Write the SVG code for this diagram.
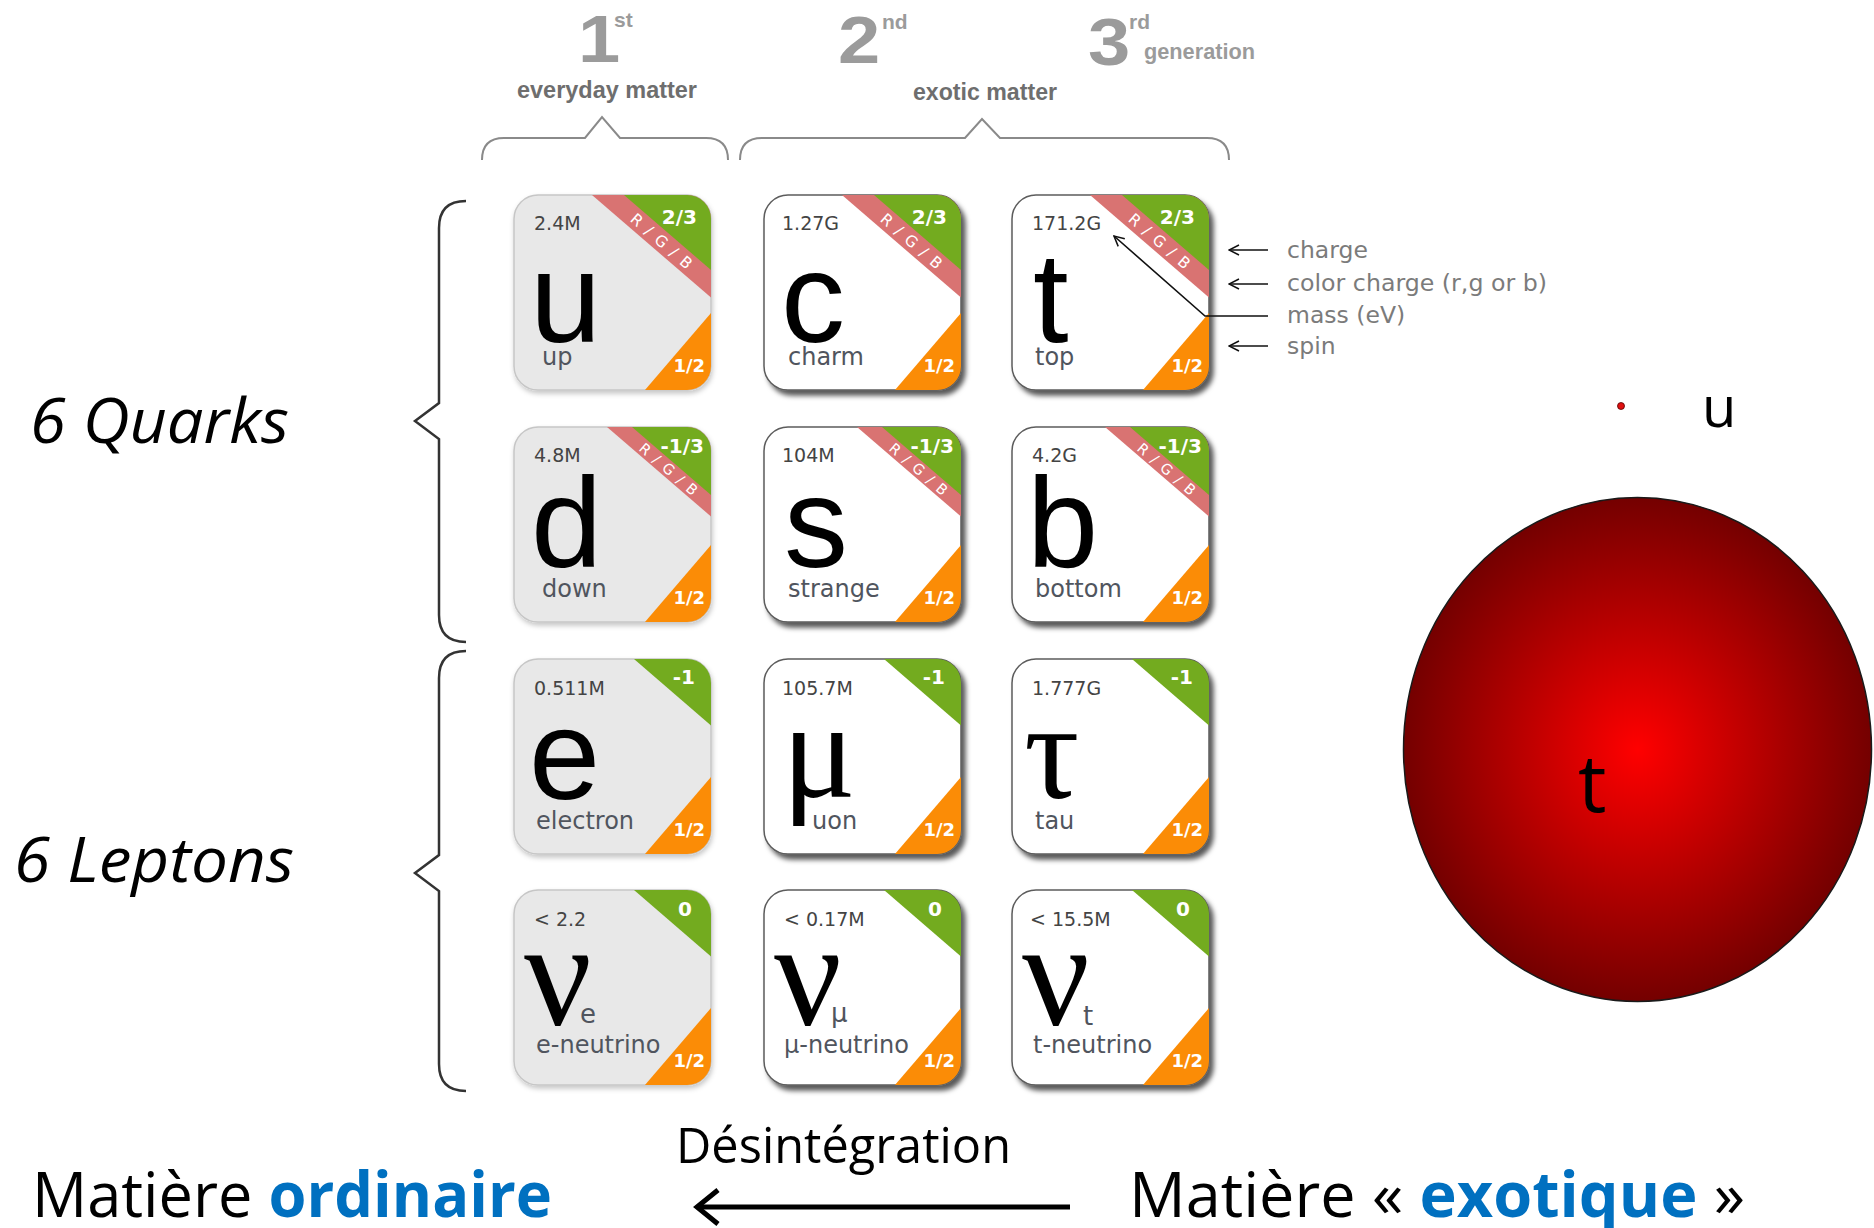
<svg xmlns="http://www.w3.org/2000/svg" width="1874" height="1228" viewBox="0 0 1874 1228">
<defs>
<style>
.bg1 { fill:#e8e8e8; stroke:#c6c6c6; stroke-width:1.5; filter:url(#shLight); }
.bg2 { fill:#ffffff; stroke:#5c5c5c; stroke-width:1.5; filter:url(#shDark); }
.green { fill:#73ab1f; }
.pink { fill:#d97372; }
.orange { fill:#fb8c06; }
.mass { font-family:"DejaVu Sans",sans-serif; font-size:19px; fill:#444; }
.sym { font-family:"Liberation Sans",Arial,sans-serif; font-size:128px; fill:#000; }
.greek { font-family:"Liberation Serif","Times New Roman",serif; fill:#000; }
.name { font-family:"DejaVu Sans",sans-serif; font-size:24px; fill:#50555e; }
.sub { font-family:"DejaVu Sans",sans-serif; font-size:26px; fill:#50555e; }
.chg { font-family:"DejaVu Sans",sans-serif; font-weight:bold; font-size:20px; fill:#fff; text-anchor:end; }
.spin { font-family:"DejaVu Sans",sans-serif; font-weight:bold; font-size:18px; fill:#fff; text-anchor:end; }
.rgb { font-family:"DejaVu Sans",sans-serif; fill:#fff; text-anchor:middle; letter-spacing:1.5px; }
.gen { font-family:"Liberation Sans",Arial,sans-serif; font-weight:bold; fill:#9b9b9b; }
.sect { font-family:"Liberation Sans",Arial,sans-serif; font-weight:bold; font-size:23px; fill:#6e6e6e; }
.legend { font-family:"DejaVu Sans",sans-serif; font-size:23.5px; fill:#7b7b7b; }
.brace-top { fill:none; stroke:#8a8a8a; stroke-width:2; }
.brace-left { fill:none; stroke:#333; stroke-width:2.5; }
.pointer { fill:none; stroke:#111; stroke-width:1.6; marker-end:url(#openArrow); }
.big { font-family:"Open Sans","Noto Sans",sans-serif; fill:#000; }
.blue { fill:#0070c0; font-weight:bold; }
</style>
<filter id="shDark" x="-10%" y="-10%" width="130%" height="130%">
  <feDropShadow dx="4" dy="5" stdDeviation="2.5" flood-color="#000" flood-opacity="0.65"/>
</filter>
<filter id="shLight" x="-10%" y="-10%" width="130%" height="130%">
  <feDropShadow dx="1" dy="3" stdDeviation="2.5" flood-color="#000" flood-opacity="0.22"/>
</filter>
<marker id="openArrow" viewBox="0 0 12 12" refX="11" refY="6" markerWidth="12" markerHeight="12" markerUnits="userSpaceOnUse" orient="auto">
  <path d="M1,1 L11,6 L1,11" fill="none" stroke="#111" stroke-width="1.5"/>
</marker>
<radialGradient id="topGlow" cx="50%" cy="50%" r="50%">
  <stop offset="0" stop-color="#ff0000"/>
  <stop offset="1" stop-color="#740000"/>
</radialGradient>
<clipPath id="cardClip"><rect width="197" height="195" rx="24"/></clipPath>
<!-- corner decorations: charge (green), colour charge (pink band), spin (orange) -->
<g id="cornerQ1">
  <polygon class="pink" points="66.4,-10 210,-10 210,113.8"/>
  <polygon class="green" points="98.4,-10 210,-10 210,86.2"/>
  <text class="rgb" transform="translate(148,46.5) rotate(40.8)" y="5.5" font-size="15.5">R / G / B</text>
</g>
<g id="cornerQ2">
  <polygon class="pink" points="81.4,-10 210,-10 210,100.7"/>
  <polygon class="green" points="106.4,-10 210,-10 210,79.2"/>
  <text class="rgb" transform="translate(155,42.7) rotate(40.8)" y="5" font-size="14.5">R / G / B</text>
</g>
<g id="cornerL">
  <polygon class="green" points="108.4,-10 210,-10 210,77.6"/>
</g>
<polygon id="spinTri" class="orange" points="122.4,205 210,205 210,102.8"/>
</defs>

<rect width="1874" height="1228" fill="#fff"/>

<!-- generation headers -->
<g id="header">
  <text class="gen" transform="translate(599,62) scale(1.15,1)" font-size="66" text-anchor="middle">1</text>
  <text class="gen" x="614" y="27" font-size="21">st</text>
  <text class="gen" transform="translate(859,63) scale(1.15,1)" font-size="66" text-anchor="middle">2</text>
  <text class="gen" x="882" y="29" font-size="21">nd</text>
  <text class="gen" transform="translate(1109,65) scale(1.15,1)" font-size="66" text-anchor="middle">3</text>
  <text class="gen" x="1129" y="29" font-size="21">rd</text>
  <text class="gen" x="1144" y="59" font-size="22" font-weight="normal" textLength="111" lengthAdjust="spacingAndGlyphs">generation</text>
  <text class="sect" x="517" y="98" textLength="180" lengthAdjust="spacingAndGlyphs">everyday matter</text>
  <text class="sect" x="913" y="100" textLength="144" lengthAdjust="spacingAndGlyphs">exotic matter</text>
  <path class="brace-top" d="M482,160 Q482,138 504,138 H585 L602,117 L620,138 H706 Q728,138 728,160"/>
  <path class="brace-top" d="M740,160 Q740,138 762,138 H965 L982,119 L1000,138 H1207 Q1229,138 1229,160"/>
</g>

<!-- family braces and labels -->
<g id="families">
  <path class="brace-left" d="M466,201 Q439,201 439,228 V403 L415,421 L439,439 V615 Q439,642 466,642"/>
  <path class="brace-left" d="M466,651 Q439,651 439,678 V855 L415,873 L439,891 V1064 Q439,1091 466,1091"/>
  <text class="big" x="30" y="443" font-size="63" font-style="italic" textLength="259" lengthAdjust="spacingAndGlyphs">6 Quarks</text>
  <text class="big" x="14" y="882" font-size="63" font-style="italic" textLength="280" lengthAdjust="spacingAndGlyphs">6 Leptons</text>
</g>

<!-- quarks, row 1 -->
<g id="quark-up" transform="translate(514,195)">
  <rect class="bg1" width="197" height="195" rx="24"/>
  <g clip-path="url(#cardClip)"><use href="#cornerQ1"/><use href="#spinTri"/></g>
  <text class="chg" x="183" y="29">2/3</text>
  <text class="spin" x="191" y="177">1/2</text>
  <text class="mass" x="20" y="35">2.4M</text>
  <text class="sym" x="16" y="147">u</text>
  <text class="name" x="28" y="170">up</text>
</g>
<g id="quark-charm" transform="translate(764,195)">
  <rect class="bg2" width="197" height="195" rx="24"/>
  <g clip-path="url(#cardClip)"><use href="#cornerQ1"/><use href="#spinTri"/></g>
  <text class="chg" x="183" y="29">2/3</text>
  <text class="spin" x="191" y="177">1/2</text>
  <text class="mass" x="18" y="35">1.27G</text>
  <text class="sym" x="17" y="147">c</text>
  <text class="name" x="24" y="170">charm</text>
</g>
<g id="quark-top" transform="translate(1012,195)">
  <rect class="bg2" width="197" height="195" rx="24"/>
  <g clip-path="url(#cardClip)"><use href="#cornerQ1"/><use href="#spinTri"/></g>
  <text class="chg" x="183" y="29">2/3</text>
  <text class="spin" x="191" y="177">1/2</text>
  <text class="mass" x="20" y="35">171.2G</text>
  <text class="sym" x="21" y="147">t</text>
  <text class="name" x="23" y="170">top</text>
</g>

<!-- quarks, row 2 -->
<g id="quark-down" transform="translate(514,427)">
  <rect class="bg1" width="197" height="195" rx="24"/>
  <g clip-path="url(#cardClip)"><use href="#cornerQ2"/><use href="#spinTri"/></g>
  <text class="chg" x="190" y="26">-1/3</text>
  <text class="spin" x="191" y="177">1/2</text>
  <text class="mass" x="20" y="35">4.8M</text>
  <text class="sym" x="17" y="140">d</text>
  <text class="name" x="28" y="170">down</text>
</g>
<g id="quark-strange" transform="translate(764,427)">
  <rect class="bg2" width="197" height="195" rx="24"/>
  <g clip-path="url(#cardClip)"><use href="#cornerQ2"/><use href="#spinTri"/></g>
  <text class="chg" x="190" y="26">-1/3</text>
  <text class="spin" x="191" y="177">1/2</text>
  <text class="mass" x="18" y="35">104M</text>
  <text class="sym" x="20" y="140">s</text>
  <text class="name" x="24" y="170">strange</text>
</g>
<g id="quark-bottom" transform="translate(1012,427)">
  <rect class="bg2" width="197" height="195" rx="24"/>
  <g clip-path="url(#cardClip)"><use href="#cornerQ2"/><use href="#spinTri"/></g>
  <text class="chg" x="190" y="26">-1/3</text>
  <text class="spin" x="191" y="177">1/2</text>
  <text class="mass" x="20" y="35">4.2G</text>
  <text class="sym" x="15" y="140">b</text>
  <text class="name" x="23" y="170">bottom</text>
</g>

<!-- charged leptons -->
<g id="lepton-electron" transform="translate(514,659)">
  <rect class="bg1" width="197" height="195" rx="24"/>
  <g clip-path="url(#cardClip)"><use href="#cornerL"/><use href="#spinTri"/></g>
  <text class="chg" x="181" y="25">-1</text>
  <text class="spin" x="191" y="177">1/2</text>
  <text class="mass" x="20" y="36">0.511M</text>
  <text class="sym" x="15" y="140">e</text>
  <text class="name" x="22" y="170">electron</text>
</g>
<g id="lepton-muon" transform="translate(764,659)">
  <rect class="bg2" width="197" height="195" rx="24"/>
  <g clip-path="url(#cardClip)"><use href="#cornerL"/><use href="#spinTri"/></g>
  <text class="chg" x="181" y="25">-1</text>
  <text class="spin" x="191" y="177">1/2</text>
  <text class="mass" x="18" y="36">105.7M</text>
  <text class="greek" x="18" y="138" font-size="138">μ</text>
  <text class="name" x="48" y="170">uon</text>
</g>
<g id="lepton-tau" transform="translate(1012,659)">
  <rect class="bg2" width="197" height="195" rx="24"/>
  <g clip-path="url(#cardClip)"><use href="#cornerL"/><use href="#spinTri"/></g>
  <text class="chg" x="181" y="25">-1</text>
  <text class="spin" x="191" y="177">1/2</text>
  <text class="mass" x="20" y="36">1.777G</text>
  <text class="greek" x="12" y="139" font-size="138">τ</text>
  <text class="name" x="23" y="170">tau</text>
</g>

<!-- neutrinos -->
<g id="lepton-e-neutrino" transform="translate(514,890)">
  <rect class="bg1" width="197" height="195" rx="24"/>
  <g clip-path="url(#cardClip)"><use href="#cornerL"/><use href="#spinTri"/></g>
  <text class="chg" x="178" y="26">0</text>
  <text class="spin" x="191" y="177">1/2</text>
  <text class="mass" x="20" y="36">&lt; 2.2</text>
  <text class="greek" x="10" y="135" font-size="150">ν</text>
  <text class="sub" x="66" y="133">e</text>
  <text class="name" x="22" y="163">e-neutrino</text>
</g>
<g id="lepton-mu-neutrino" transform="translate(764,890)">
  <rect class="bg2" width="197" height="195" rx="24"/>
  <g clip-path="url(#cardClip)"><use href="#cornerL"/><use href="#spinTri"/></g>
  <text class="chg" x="178" y="26">0</text>
  <text class="spin" x="191" y="177">1/2</text>
  <text class="mass" x="20" y="36">&lt; 0.17M</text>
  <text class="greek" x="10" y="135" font-size="150">ν</text>
  <text class="sub" x="67" y="132">μ</text>
  <text class="name" x="20" y="163">μ-neutrino</text>
</g>
<g id="lepton-tau-neutrino" transform="translate(1012,890)">
  <rect class="bg2" width="197" height="195" rx="24"/>
  <g clip-path="url(#cardClip)"><use href="#cornerL"/><use href="#spinTri"/></g>
  <text class="chg" x="178" y="26">0</text>
  <text class="spin" x="191" y="177">1/2</text>
  <text class="mass" x="18" y="36">&lt; 15.5M</text>
  <text class="greek" x="10" y="135" font-size="150">ν</text>
  <text class="sub" x="71" y="135">t</text>
  <text class="name" x="21" y="163">t-neutrino</text>
</g>

<!-- legend of the card fields -->
<g id="legend">
  <text class="legend" x="1287" y="258">charge</text>
  <text class="legend" x="1287" y="291" textLength="260" lengthAdjust="spacingAndGlyphs">color charge (r,g or b)</text>
  <text class="legend" x="1287" y="323">mass (eV)</text>
  <text class="legend" x="1287" y="354">spin</text>
</g>

<!-- connectors -->
<g id="connectors">
  <path class="pointer" d="M1268,250 H1229"/>
  <path class="pointer" d="M1268,284 H1229"/>
  <path class="pointer" d="M1268,316 H1205 L1114,236"/>
  <path class="pointer" d="M1268,346 H1229"/>
  <path d="M1070,1207 H698" fill="none" stroke="#000" stroke-width="5"/>
  <path d="M718,1190 L697,1207 L718,1224" fill="none" stroke="#000" stroke-width="5"/>
</g>

<!-- size comparison: up quark vs top quark -->
<g id="size-up">
  <circle cx="1621" cy="406" r="3.5" fill="#e01010" stroke="#500" stroke-width="0.8"/>
  <text class="big" x="1702" y="427" font-size="56">u</text>
</g>
<g id="size-top">
  <ellipse cx="1637.5" cy="749.5" rx="234" ry="252" fill="url(#topGlow)" stroke="#1a1a1a" stroke-width="1.5"/>
  <text class="big" x="1578" y="812" font-size="80">t</text>
</g>

<!-- decay caption -->
<g id="caption">
  <text class="big" x="676" y="1163" font-size="50" textLength="335" lengthAdjust="spacingAndGlyphs">Désintégration</text>
  <text class="big" x="32" y="1217" font-size="63" textLength="520" lengthAdjust="spacingAndGlyphs">Matière <tspan class="blue">ordinaire</tspan></text>
  <text class="big" x="1129" y="1217" font-size="63" textLength="616" lengthAdjust="spacingAndGlyphs">Matière « <tspan class="blue">exotique</tspan> »</text>
</g>
</svg>
